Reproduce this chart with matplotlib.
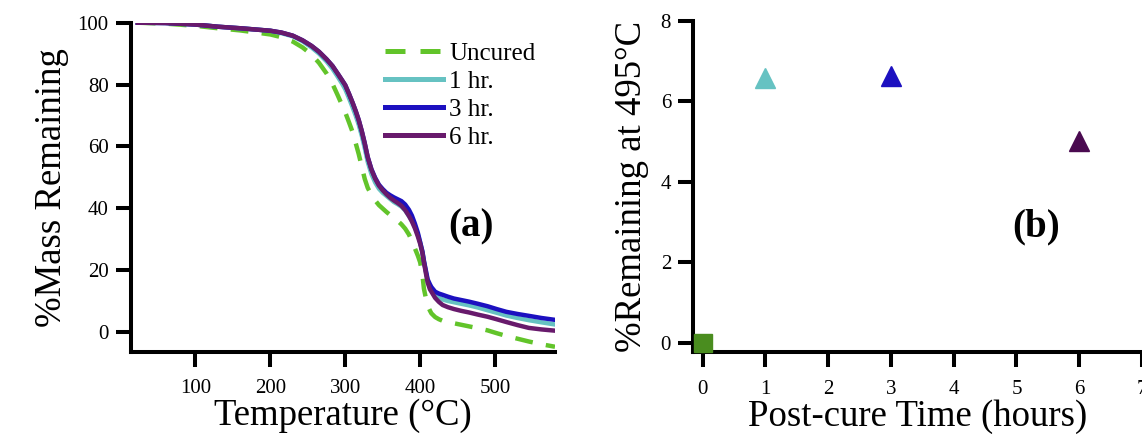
import matplotlib
matplotlib.use("Agg")
import matplotlib.pyplot as plt

plt.rcParams['font.family'] = ['Liberation Serif', 'DejaVu Serif']

# ---------------- data: panel (a) ----------------
temperature = [23, 60, 100, 130, 160, 200, 215, 230, 243, 255, 265, 275, 283, 290, 296, 300, 305,
               310, 314, 318, 322, 326, 330, 335, 340, 345, 350, 355, 360, 365, 370, 375, 380,
               385, 389, 393, 397, 400, 403, 405, 408, 410, 413, 415, 420, 425, 430, 437, 445,
               455, 465, 477, 490, 502, 515, 530, 545, 562, 580]
uncured = [100, 99.7, 99.0, 98.2, 97.5, 96.2, 95.3, 93.9, 92.0, 89.7, 87.0, 83.6, 80.2, 76.5,
           73.2, 71, 67.8, 64.5, 61.0, 57.5, 53.5, 49.5, 46.6, 44.3, 42.5, 41, 39.9, 38.8, 37.8,
           36.8, 35.9, 34.8, 33.4, 31.5, 29.4, 27, 24.6, 22.5, 18.5, 14, 10.5, 8.5, 6.9, 6.0,
           4.8, 4.1, 3.6, 3.2, 2.8, 2.3, 1.8, 1.2, 0.5, -0.4, -1.3, -2.2, -3.1, -4.0, -4.8]
cure_1hr = [100, 99.9, 99.4, 98.7, 98.2, 97.4, 96.6, 95.6, 94.0, 92.0, 90.0, 87.5, 85.1, 82.5,
            80.2, 78.5, 75.6, 72.5, 69.9, 67, 63.5, 59.5, 55.0, 51, 48.3, 46.3, 45.0, 44, 43.0,
            42, 41.3, 40.5, 39.3, 37.5, 36.0, 34, 31.4, 29, 26.0, 23, 19.0, 16.5, 14.4, 13.5,
            12, 11.1, 10.5, 10.0, 9.6, 9.1, 8.6, 7.9, 7, 6.2, 5.3, 4.5, 3.8, 3.1, 2.4]
cure_3hr = [100, 99.9, 99.4, 98.7, 98.2, 97.4, 96.8, 95.8, 94.3, 92.5, 90.6, 88.2, 86.0, 83.5,
            81.3, 79.8, 77.0, 74, 71.4, 68.5, 65.0, 61, 56.5, 52.6, 49.8, 47.6, 46.2, 45, 44.2,
            43.5, 42.9, 42.3, 41.2, 39.5, 37.6, 35, 32.0, 29, 26.0, 23, 19.4, 17, 15.4, 14.5,
            13, 12.4, 12, 11.4, 10.8, 10.3, 9.8, 9.1, 8.3, 7.4, 6.5, 5.8, 5.2, 4.5, 3.9]
cure_6hr = [100, 99.9, 99.4, 98.7, 98.2, 97.4, 96.8, 95.8, 94.3, 92.5, 90.6, 88.2, 86.0, 83.5,
            81.3, 79.8, 77.0, 74, 71.4, 68.5, 65.0, 61, 56.5, 52.4, 49.5, 47.3, 45.8, 44.5, 43.4,
            42.5, 41.7, 40.8, 39.4, 37.5, 35.7, 33.5, 30.8, 28.5, 25.5, 22.5, 18.5, 16, 13.8,
            13, 11, 9.7, 8.7, 8.0, 7.4, 6.8, 6.3, 5.6, 4.9, 4.1, 3.2, 2.2, 1.3, 0.8, 0.4]
series_labels = ["Uncured", "1 hr.", "3 hr.", "6 hr."]

# ---------------- data: panel (b) ----------------
postcure_hours = [0, 1, 3, 6]
remaining_495 = [0.0, 6.58, 6.63, 5.01]

x_ticks_a = [100, 200, 300, 400, 500]
y_ticks_a = [0, 20, 40, 60, 80, 100]
x_ticks_b = [0, 1, 2, 3, 4, 5, 6, 7]
y_ticks_b = [0, 2, 4, 6, 8]

# ---------------- styles ----------------
c_green = "#62c42a"
c_cyan = "#66c2c2"
c_blue = "#1c10c0"
c_purple = "#681a6c"
c_square = "#4a8d1f"
c_purple_mk = "#4a0a50"

W, H = 1142, 441
fig = plt.figure(figsize=(W / 100, H / 100), dpi=100)

def frac_axes(x0, x1, ytop, ybot):
    return fig.add_axes([x0 / W, 1 - ybot / H, (x1 - x0) / W, (ybot - ytop) / H])

def style_axes(ax):
    for s in ("top", "right"):
        ax.spines[s].set_visible(False)
    for s in ("left", "bottom"):
        ax.spines[s].set_linewidth(2.9)
        ax.spines[s].set_color("black")
    ax.tick_params(axis="both", direction="out", length=11, width=2.9,
                   labelsize=15, colors="black")
    ax.tick_params(axis="x", pad=9)
    ax.tick_params(axis="y", pad=5)

# ---------------- panel (a) ----------------
axa = frac_axes(131, 555, 22.7, 351.7)
axa.plot(temperature, uncured, color=c_green, lw=3.2, dashes=(4, 3), label=series_labels[0])
axa.plot(temperature, cure_1hr, color=c_cyan, lw=3.2, label=series_labels[1])
axa.plot(temperature, cure_3hr, color=c_blue, lw=3.2, label=series_labels[2])
axa.plot(temperature, cure_6hr, color=c_purple, lw=3.2, label=series_labels[3])
axa.set_xlim(14, 580)
axa.set_ylim(-6.4, 100)
axa.set_xticks(x_ticks_a)
axa.set_yticks(y_ticks_a)
style_axes(axa)
axa.set_xlabel("Temperature (°C)", fontsize=26.5, labelpad=0)
axa.set_ylabel("%Mass Remaining", fontsize=26.5, labelpad=6)
axa.text(468, 34, "(a)", fontsize=28, fontweight="bold", ha="center", va="center")
leg = axa.legend(loc="upper left", bbox_to_anchor=(0.6, 0.94), frameon=False,
                 fontsize=18, handlelength=2.3, handletextpad=0.25,
                 labelspacing=0.22, borderpad=0, borderaxespad=0)
for h in leg.get_lines():
    h.set_linewidth(3.6)

# ---------------- panel (b) ----------------
axb = frac_axes(693.3, 1142, 20.7, 352.3)
axb.plot(postcure_hours[0], remaining_495[0], marker="s", ms=12.5, color=c_square,
         linestyle="none", clip_on=False, zorder=3)
tri_colors = [c_cyan, c_blue, c_purple_mk]
for hx, val, col in zip(postcure_hours[1:], remaining_495[1:], tri_colors):
    axb.plot(hx, val, marker="^", ms=15, color=col, linestyle="none",
             clip_on=False, zorder=3)
axb.set_xlim(-0.15, 7.0)
axb.set_ylim(-0.24, 8)
axb.set_xticks(x_ticks_b)
axb.set_yticks(y_ticks_b)
style_axes(axb)
axb.set_xlabel("Post-cure Time (hours)", fontsize=26.5, labelpad=0)
axb.set_ylabel("%Remaining at 495°C", fontsize=26.5, labelpad=8)
axb.text(5.31, 2.87, "(b)", fontsize=28, fontweight="bold", ha="center", va="center")

fig.savefig("out.png", dpi=100)
